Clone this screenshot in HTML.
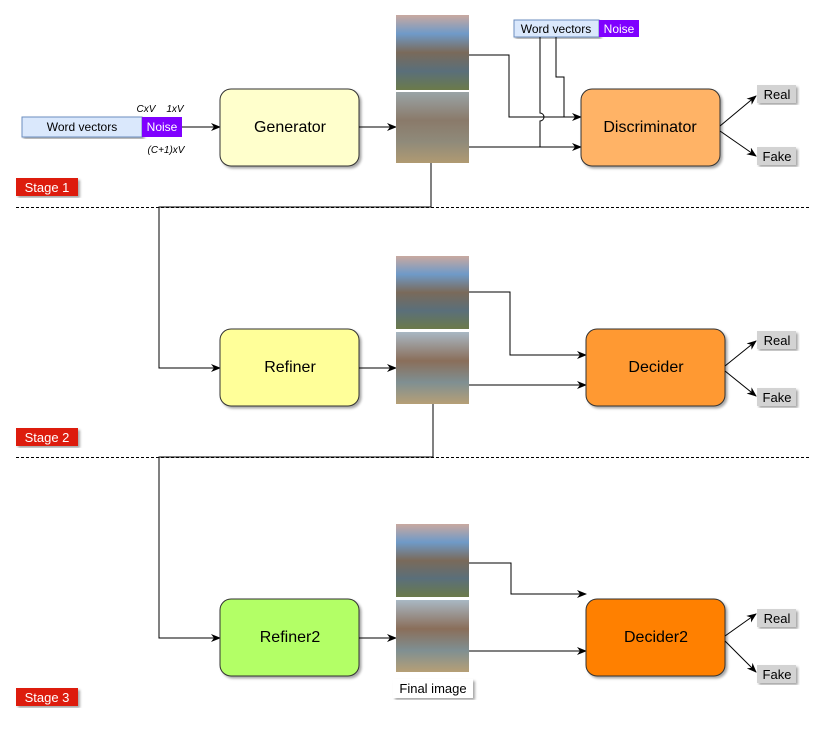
<!DOCTYPE html>
<html><head><style>
html,body{margin:0;padding:0;background:#fff;}
svg{display:block;font-family:"Liberation Sans",sans-serif;}
</style></head><body>
<svg width="840" height="734" viewBox="0 0 840 734">
<defs>
<marker id="a" markerWidth="10" markerHeight="8" refX="9" refY="4" orient="auto" markerUnits="userSpaceOnUse"><path d="M0,0 L10,4 L0,8 L3,4 z" fill="#000"/></marker>
<linearGradient id="real" x1="0" y1="0" x2="0" y2="1">
<stop offset="0" stop-color="#c9a9a0"/><stop offset="0.25" stop-color="#6f9ac8"/><stop offset="0.5" stop-color="#7a6a5a"/><stop offset="0.75" stop-color="#5a6f7a"/><stop offset="1" stop-color="#6b7a4a"/></linearGradient>
<linearGradient id="blur" x1="0" y1="0" x2="0" y2="1">
<stop offset="0" stop-color="#9aa4a6"/><stop offset="0.4" stop-color="#8a7a6a"/><stop offset="0.7" stop-color="#8f8a7a"/><stop offset="1" stop-color="#b09a72"/></linearGradient>
<linearGradient id="fin" x1="0" y1="0" x2="0" y2="1">
<stop offset="0" stop-color="#a9b8c4"/><stop offset="0.4" stop-color="#8a6e5a"/><stop offset="0.7" stop-color="#7f8f92"/><stop offset="1" stop-color="#b69f76"/></linearGradient>
<filter id="sh"><feDropShadow dx="2" dy="2" stdDeviation="1.2" flood-opacity="0.35"/></filter>
</defs>

<!-- dashed separators -->
<line x1="16" y1="207.5" x2="810" y2="207.5" stroke="#000" stroke-dasharray="3,2"/>
<line x1="16" y1="457.5" x2="810" y2="457.5" stroke="#000" stroke-dasharray="3,2"/>

<!-- Stage 1 -->
<rect x="22" y="117" width="120" height="20" fill="#dae8fc" stroke="#6c8ebf" filter="url(#sh)"/>
<text x="82" y="131" font-size="12" text-anchor="middle">Word vectors</text>
<rect x="142" y="117" width="40" height="20" fill="#7f00ff"/>
<text x="162" y="131" font-size="12" text-anchor="middle" fill="#fff">Noise</text>
<text x="146" y="112" font-size="10" font-style="italic" text-anchor="middle">CxV</text>
<text x="175" y="112" font-size="10" font-style="italic" text-anchor="middle">1xV</text>
<text x="166" y="153" font-size="10" font-style="italic" text-anchor="middle">(C+1)xV</text>
<line x1="182" y1="127" x2="220" y2="127" stroke="#000" marker-end="url(#a)"/>
<rect x="220" y="89" width="139" height="77" rx="11" fill="#ffffcc" stroke="#333" filter="url(#sh)"/>
<text x="290" y="132" font-size="16" text-anchor="middle">Generator</text>
<line x1="359" y1="127" x2="396" y2="127" stroke="#000" marker-end="url(#a)"/>
<rect x="396" y="15" width="73" height="75" fill="url(#real)"/>
<rect x="396" y="92" width="73" height="71" fill="url(#blur)"/>

<rect x="514" y="20" width="85" height="17" fill="#dae8fc" stroke="#6c8ebf" filter="url(#sh)"/>
<text x="556" y="33" font-size="12" text-anchor="middle">Word vectors</text>
<rect x="599" y="20" width="40" height="17" fill="#7f00ff"/>
<text x="619" y="33" font-size="12" text-anchor="middle" fill="#fff">Noise</text>
<polyline points="469,55 509,55 509,117 581,117" fill="none" stroke="#000" marker-end="url(#a)"/>
<line x1="469" y1="147" x2="581" y2="147" stroke="#000" marker-end="url(#a)"/>
<path d="M540,37 L540,113 A4,4 0 0 1 540,121 L540,147" fill="none" stroke="#000"/>
<polyline points="556,37 556,77 564,77 564,117" fill="none" stroke="#000"/>
<rect x="581" y="89" width="139" height="77" rx="11" fill="#ffb366" stroke="#333" filter="url(#sh)"/>
<text x="650" y="132" font-size="16" text-anchor="middle">Discriminator</text>
<line x1="720" y1="126" x2="756" y2="96" stroke="#000" marker-end="url(#a)"/>
<line x1="720" y1="131" x2="756" y2="156" stroke="#000" marker-end="url(#a)"/>
<rect x="757" y="85" width="39" height="18" fill="#d3d3d3" filter="url(#sh)"/>
<text x="777" y="99" font-size="13" text-anchor="middle">Real</text>
<rect x="757" y="147" width="39" height="18" fill="#d3d3d3" filter="url(#sh)"/>
<text x="777" y="161" font-size="13" text-anchor="middle">Fake</text>
<rect x="16" y="178" width="62" height="18" fill="#dd1c0c" filter="url(#sh)"/>
<text x="47" y="192" font-size="13" text-anchor="middle" fill="#fff">Stage 1</text>

<polyline points="431,163 431,207 159,207 159,368 220,368" fill="none" stroke="#000" marker-end="url(#a)"/>

<!-- Stage 2 -->
<rect x="220" y="329" width="139" height="77" rx="11" fill="#ffff99" stroke="#333" filter="url(#sh)"/>
<text x="290" y="372" font-size="16" text-anchor="middle">Refiner</text>
<line x1="359" y1="368" x2="396" y2="368" stroke="#000" marker-end="url(#a)"/>
<rect x="396" y="256" width="73" height="73" fill="url(#real)"/>
<rect x="396" y="332" width="73" height="72" fill="url(#fin)"/>
<polyline points="469,292 510,292 510,355 586,355" fill="none" stroke="#000" marker-end="url(#a)"/>
<line x1="469" y1="385" x2="586" y2="385" stroke="#000" marker-end="url(#a)"/>
<rect x="586" y="329" width="139" height="77" rx="11" fill="#ff9933" stroke="#333" filter="url(#sh)"/>
<text x="656" y="372" font-size="16" text-anchor="middle">Decider</text>
<line x1="725" y1="366" x2="756" y2="341" stroke="#000" marker-end="url(#a)"/>
<line x1="725" y1="371" x2="756" y2="396" stroke="#000" marker-end="url(#a)"/>
<rect x="757" y="331" width="39" height="18" fill="#d3d3d3" filter="url(#sh)"/>
<text x="777" y="345" font-size="13" text-anchor="middle">Real</text>
<rect x="757" y="388" width="39" height="18" fill="#d3d3d3" filter="url(#sh)"/>
<text x="777" y="402" font-size="13" text-anchor="middle">Fake</text>
<rect x="16" y="428" width="62" height="18" fill="#dd1c0c" filter="url(#sh)"/>
<text x="47" y="442" font-size="13" text-anchor="middle" fill="#fff">Stage 2</text>

<polyline points="433,404 433,457 159,457 159,638 220,638" fill="none" stroke="#000" marker-end="url(#a)"/>

<!-- Stage 3 -->
<rect x="220" y="599" width="139" height="77" rx="11" fill="#b3ff66" stroke="#333" filter="url(#sh)"/>
<text x="290" y="642" font-size="16" text-anchor="middle">Refiner2</text>
<line x1="359" y1="638" x2="396" y2="638" stroke="#000" marker-end="url(#a)"/>
<rect x="396" y="524" width="73" height="73" fill="url(#real)"/>
<rect x="396" y="600" width="73" height="72" fill="url(#fin)"/>
<rect x="393" y="679" width="80" height="19" fill="#fff" filter="url(#sh)"/>
<text x="433" y="693" font-size="13" text-anchor="middle">Final image</text>
<polyline points="469,563 511,563 511,594 586,594" fill="none" stroke="#000" marker-end="url(#a)"/>
<line x1="469" y1="651" x2="586" y2="651" stroke="#000" marker-end="url(#a)"/>
<rect x="586" y="599" width="139" height="77" rx="11" fill="#ff8000" stroke="#333" filter="url(#sh)"/>
<text x="656" y="642" font-size="16" text-anchor="middle">Decider2</text>
<line x1="725" y1="636" x2="756" y2="614" stroke="#000" marker-end="url(#a)"/>
<line x1="725" y1="641" x2="756" y2="672" stroke="#000" marker-end="url(#a)"/>
<rect x="757" y="609" width="39" height="18" fill="#d3d3d3" filter="url(#sh)"/>
<text x="777" y="623" font-size="13" text-anchor="middle">Real</text>
<rect x="757" y="665" width="39" height="18" fill="#d3d3d3" filter="url(#sh)"/>
<text x="777" y="679" font-size="13" text-anchor="middle">Fake</text>
<rect x="16" y="688" width="62" height="18" fill="#dd1c0c" filter="url(#sh)"/>
<text x="47" y="702" font-size="13" text-anchor="middle" fill="#fff">Stage 3</text>
</svg>
</body></html>
